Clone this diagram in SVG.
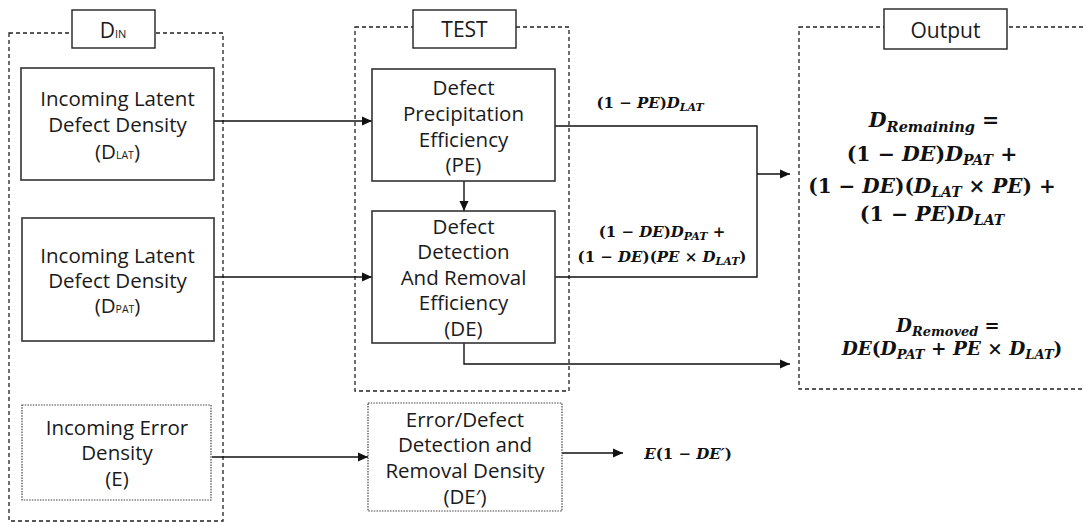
<svg xmlns="http://www.w3.org/2000/svg" width="1085" height="522" viewBox="0 0 1085 522">
<defs>
<marker id="ah" viewBox="0 0 10 10" refX="10" refY="5" markerWidth="10" markerHeight="10" markerUnits="userSpaceOnUse" orient="auto">
<path d="M0,0.5 L10,5 L0,9.5 Z" fill="#111"/>
</marker>
<style>
.cont{fill:none;stroke:#222;stroke-width:1.3;stroke-dasharray:4 3}
.box{fill:#fff;stroke:#333;stroke-width:1.6}
.dot{fill:#fff;stroke:#444;stroke-width:1.2;stroke-dasharray:1.5 1.2}
.lbl{fill:#fff;stroke:#222;stroke-width:1.4}
.t{font-family:"Open Sans","Noto Sans",sans-serif;font-size:20.5px;fill:#1a1a1a;text-anchor:middle}
.s{font-size:10.5px}
.m{font-family:"DejaVu Serif","Liberation Serif",serif;font-weight:bold;fill:#111;text-anchor:middle}
.i{font-style:italic}
.c{fill:none;stroke:#111;stroke-width:1.4}
</style>
</defs>

<g id="din-container">
<rect class="cont" x="9" y="33" width="214" height="488"/>
<rect class="lbl" x="72" y="10" width="83" height="38"/>
<text class="t" x="113" y="38" style="font-size:21px">D<tspan class="s" style="font-size:11px">IN</tspan></text>
</g>

<g id="test-container">
<rect class="cont" x="355" y="27" width="214" height="364"/>
<rect class="lbl" x="413" y="10" width="103" height="38"/>
<text class="t" x="464.5" y="37" style="font-size:21px">TEST</text>
</g>

<g id="output-container">
<rect class="cont" x="799" y="27" width="300" height="362"/>
<rect class="lbl" x="884" y="9" width="123" height="40"/>
<text class="t" x="945.5" y="38" style="font-size:21px">Output</text>
</g>

<g id="connectors">
<path class="c" d="M214,121 H372" marker-end="url(#ah)"/>
<path class="c" d="M214,277 H372" marker-end="url(#ah)"/>
<path class="c" d="M212,457 H368" marker-end="url(#ah)"/>
<path class="c" d="M464,181 V211" marker-end="url(#ah)"/>
<path class="c" d="M555,126 H757 V277 H555"/>
<path class="c" d="M757,174 H790" marker-end="url(#ah)"/>
<path class="c" d="M464,343 V364 H790" marker-end="url(#ah)"/>
<path class="c" d="M562,453 H623" marker-end="url(#ah)"/>
</g>

<g id="node-dlat">
<rect class="box" x="21" y="68" width="193" height="112"/>
<text class="t" x="117.5" y="106">Incoming Latent</text>
<text class="t" x="117.5" y="132">Defect Density</text>
<text class="t" x="117.5" y="159">(D<tspan class="s">LAT</tspan>)</text>
</g>

<g id="node-dpat">
<rect class="box" x="22" y="218" width="192" height="123"/>
<text class="t" x="117.5" y="263">Incoming Latent</text>
<text class="t" x="117.5" y="288">Defect Density</text>
<text class="t" x="117.5" y="313">(D<tspan class="s">PAT</tspan>)</text>
</g>

<g id="node-e">
<rect class="dot" x="22" y="405" width="189" height="95"/>
<text class="t" x="117" y="435">Incoming Error</text>
<text class="t" x="117" y="460">Density</text>
<text class="t" x="117" y="486">(E)</text>
</g>

<g id="node-pe">
<rect class="box" x="372" y="69" width="183" height="112"/>
<text class="t" x="463.5" y="95">Defect</text>
<text class="t" x="463.5" y="121">Precipitation</text>
<text class="t" x="463.5" y="147">Efficiency</text>
<text class="t" x="463.5" y="172">(PE)</text>
</g>

<g id="node-de">
<rect class="box" x="372" y="211" width="183" height="132"/>
<text class="t" x="463.5" y="234">Defect</text>
<text class="t" x="463.5" y="259">Detection</text>
<text class="t" x="463.5" y="285">And Removal</text>
<text class="t" x="463.5" y="310">Efficiency</text>
<text class="t" x="463.5" y="336">(DE)</text>
</g>

<g id="node-dep">
<rect class="dot" x="368" y="403" width="194" height="108"/>
<text class="t" x="465" y="427">Error/Defect</text>
<text class="t" x="465" y="452">Detection and</text>
<text class="t" x="465" y="478">Removal Density</text>
<text class="t" x="465" y="504">(DE′)</text>
</g>

<g id="label-pe-out">
<text class="m" x="650" y="108" font-size="15">(1 − <tspan class="i">PE</tspan>)<tspan class="i">D</tspan><tspan class="i" font-size="11" dy="3">LAT</tspan></text>
</g>

<g id="label-de-out">
<text class="m" x="662" y="237" font-size="15">(1 − <tspan class="i">DE</tspan>)<tspan class="i">D</tspan><tspan class="i" font-size="11" dy="3">PAT</tspan><tspan dy="-3"> +</tspan></text>
<text class="m" x="662" y="262" font-size="15">(1 − <tspan class="i">DE</tspan>)(<tspan class="i">PE</tspan> × <tspan class="i">D</tspan><tspan class="i" font-size="11" dy="3">LAT</tspan><tspan dy="-3">)</tspan></text>
</g>

<g id="label-e-out">
<text class="m" x="688" y="459" font-size="15"><tspan class="i">E</tspan>(1 − <tspan class="i">DE′</tspan>)</text>
</g>

<g id="node-remaining">
<text class="m" x="934" y="127" font-size="20.5"><tspan class="i">D</tspan><tspan class="i" font-size="14.5" dy="5">Remaining</tspan><tspan dy="-5"> =</tspan></text>
<text class="m" x="932" y="161" font-size="20.5">(1 − <tspan class="i">DE</tspan>)<tspan class="i">D</tspan><tspan class="i" font-size="14" dy="4">PAT</tspan><tspan dy="-4"> +</tspan></text>
<text class="m" x="932" y="193" font-size="20">(1 − <tspan class="i">DE</tspan>)(<tspan class="i">D</tspan><tspan class="i" font-size="14" dy="4">LAT</tspan><tspan dy="-4"> × </tspan><tspan class="i">PE</tspan>) +</text>
<text class="m" x="932" y="221" font-size="20.5">(1 − <tspan class="i">PE</tspan>)<tspan class="i">D</tspan><tspan class="i" font-size="14" dy="4">LAT</tspan></text>
</g>

<g id="node-removed">
<text class="m" x="948" y="332" font-size="18"><tspan class="i">D</tspan><tspan class="i" font-size="13" dy="4">Removed</tspan><tspan dy="-4"> =</tspan></text>
<text class="m" x="952" y="355" font-size="18.5"><tspan class="i">DE</tspan>(<tspan class="i">D</tspan><tspan class="i" font-size="13" dy="4">PAT</tspan><tspan dy="-4"> + </tspan><tspan class="i">PE</tspan> × <tspan class="i">D</tspan><tspan class="i" font-size="13" dy="4">LAT</tspan><tspan dy="-4">)</tspan></text>
</g>
</svg>
